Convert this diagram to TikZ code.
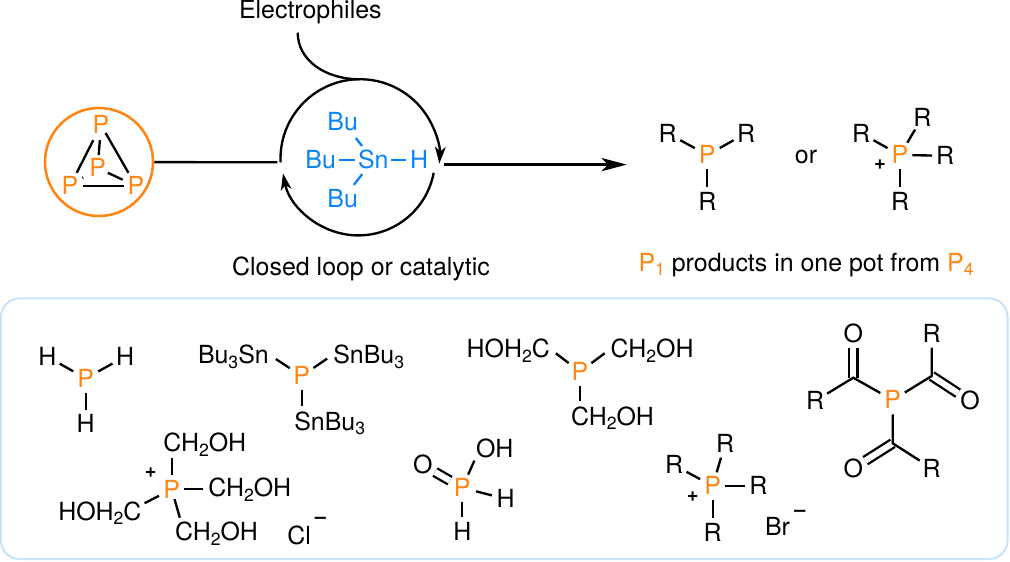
\documentclass[tikz,border=0pt]{standalone}
\usepackage{fontspec}
\setmainfont{TeX Gyre Heros}
\usetikzlibrary{arrows.meta,calc}
\definecolor{porange}{HTML}{FF8412}
\definecolor{snblue}{HTML}{0A84F5}
\definecolor{panelblue}{HTML}{C6E3FB}
\newcommand\chemfont{\fontsize{18.7}{20}\selectfont}
\newcommand\lowidx[1]{\raisebox{-3.6pt}{\fontsize{13.2}{14}\selectfont #1}}
\tikzset{
  x=0.75pt, y=-0.75pt,
  every node/.style={font=\chemfont},
  atom/.style={circle, inner sep=0pt, minimum size=21pt, text height=13.4pt, text depth=0pt},
  tight/.style={circle, inner sep=0pt, text height=13.4pt, text depth=0pt},
  lbl/.style={rectangle, inner sep=0pt, outer sep=0pt, text height=13.4pt, text depth=0pt},
  phos/.style={atom, text=porange},
  tin/.style={tight, text=snblue},
  bond/.style={line width=1.75pt},
  tinbond/.style={line width=1.75pt, draw=snblue},
  dbl/.style={line width=1.75pt, double, double distance=4.6pt},
  gap/.style 2 args={shorten <=#1*0.75pt, shorten >=#2*0.75pt},
  catarrow/.style={line width=1.75pt, -{Stealth[length=12.5pt, width=8pt, inset=3.5pt]}},
  longarrow/.style={line width=1.75pt, -{Stealth[length=19pt, width=10pt, inset=5pt]}},
  charge/.style={inner sep=0pt, font=\bfseries\fontsize{15}{16}\selectfont},
}
\begin{document}
\begin{tikzpicture}
\useasboundingbox (0,0) rectangle (1010,561);

% tetrahedral P4 inside its orange ring
\node[circle, draw=porange, line width=1.9pt, minimum size=81pt, inner sep=0pt] (ring) at (99,162) {};
\node[tight, text=porange] (pt) at (101,125) {P};
\node[tight, text=porange] (pc) at (97.7,168) {P};
\node[tight, text=porange] (pl) at (70,186) {P};
\node[tight, text=porange] (pr) at (136,186) {P};
\draw[bond, gap={4.6}{2.4}] (pt) -- (pl);
\draw[bond, gap={2.8}{0.8}] (pt) -- (pc);
\draw[bond, gap={-3.2}{2.8}] (pt) -- (pr);
\draw[bond, gap={0.5}{-0.5}] (pl) -- (pr);
\draw[bond, gap={-1.2}{2.3}] (pc) -- (pr);
\draw[bond, gap={4.9}{2.4}] (pc) -- (pl);

% tin hydride cycle
\coordinate (cycleIn) at (277.3,162.3);
\coordinate (cycleOut) at (444.3,164.6);
\coordinate (arrowEnd) at (626.7,164.6);
\coordinate (upperC) at (360,158.7);
\coordinate (lowerC) at (358.3,158.7);
\coordinate (elecStart) at (297.7,32.7);
\coordinate (elecJoin) at (360,79.3);
\draw[bond] (ring) -- (cycleIn);
\draw[longarrow] (cycleOut) -- (arrowEnd);
\draw[catarrow] (upperC) ++(177.4:79.5) arc[start angle=177.4, end angle=363.5, radius=79.5];
\draw[catarrow] (lowerC) ++(10.6:76.7) arc[start angle=10.6, end angle=169, radius=76.7];
\draw[bond] (elecStart) .. controls (297.7,60) and (325,79.3) .. (elecJoin);

\node[tin] (sn) at (373.3,160) {Sn};
\node[tin] (buL) at (320.7,160) {Bu};
\node[tin] (buT) at (342.7,121.7) {Bu};
\node[tin] (buB) at (342.7,199) {Bu};
\node[tin] (snH) at (419,160) {H};
\draw[tinbond] (buL) -- (sn);
\draw[tinbond] (sn) -- (snH);
\draw[tinbond, gap={3}{0}] (buT) -- (sn);
\draw[tinbond] (sn) -- (buB);

\node[lbl, anchor=south] (elec) at (310.3,18) {Electrophiles};
\node[lbl, anchor=south] (loop) at (361,275.5) {Closed loop or catalytic};

% products
\node[phos] (a1) at (707.3,155) {P};
\node[atom] (a1l) at (667.7,133.3) {R};
\node[atom] (a1r) at (746,133.3) {R};
\node[atom] (a1b) at (707.3,201.7) {R};
\draw[bond] (a1) -- (a1l);
\draw[bond] (a1) -- (a1r);
\draw[bond] (a1) -- (a1b);
\node[lbl, anchor=south] (orword) at (806,163.3) {or};
\node[phos] (a2) at (900,155) {P};
\node[atom] (a2l) at (861,133.3) {R};
\node[atom] (a2t) at (922.3,117.3) {R};
\node[tight] (a2r) at (945,155.7) {R};
\node[atom] (a2b) at (900,201.7) {R};
\node[charge] (a2p) at (880,165) {+};
\draw[bond] (a2) -- (a2l);
\draw[bond] (a2) -- (a2t);
\draw[bond, gap={-2}{0}] (a2) -- (a2r);
\draw[bond] (a2) -- (a2b);
\node[lbl, anchor=south west] (cap) at (638.5,271) {\textcolor{porange}{P\lowidx{1}} products in one pot from \textcolor{porange}{P\lowidx{4}}};

% panel of P1 compounds
\node[draw=panelblue, line width=1.5pt, rounded corners=14pt, minimum width=755pt, minimum height=195.5pt, inner sep=0pt] (panel) at (504.2,428.7) {};

% phosphine
\node[phos] (b1) at (85.7,378.3) {P};
\node[atom] (b1l) at (47.3,356.7) {H};
\node[atom] (b1r) at (125,356.7) {H};
\node[atom] (b1b) at (85.7,424) {H};
\draw[bond] (b1) -- (b1l);
\draw[bond] (b1) -- (b1r);
\draw[bond] (b1) -- (b1b);

% tris(tributylstannyl)phosphine
\node[phos] (b2) at (301.7,376) {P};
\node[lbl, anchor=south west] (b2l) at (198,363.3) {Bu\lowidx{3}Sn};
\node[lbl, anchor=south west] (b2r) at (333.3,363.3) {SnBu\lowidx{3}};
\node[lbl, anchor=south west] (b2b) at (294.3,430) {SnBu\lowidx{3}};
\draw[bond, gap={0}{8.5}] (b2) -- (b2l.east);
\draw[bond, gap={0}{7.5}] (b2) -- (b2r.west);
\draw[bond, gap={0}{6.5}] (b2) -- (b2 |- b2b.north);

% tris(hydroxymethyl)phosphine
\node[phos] (b3) at (580,371.7) {P};
\node[lbl, anchor=south west] (b3l) at (466.7,357.7) {HOH\lowidx{2}C};
\node[lbl, anchor=south west] (b3r) at (610.7,357.7) {CH\lowidx{2}OH};
\node[lbl, anchor=south west] (b3b) at (571,425) {CH\lowidx{2}OH};
\draw[bond, gap={0}{7.5}] (b3) -- (b3l.east);
\draw[bond, gap={0}{7.5}] (b3) -- (b3r.west);
\draw[bond, gap={0}{6}] (b3) -- (b3 |- b3b.north);

% triacylphosphine
\node[phos] (b4) at (892.7,400) {P};
\coordinate (c1) at (853.3,377.7);
\coordinate (c2) at (931.7,376);
\coordinate (c3) at (892.7,443.3);
\node[atom] (o1) at (853.3,333.3) {O};
\node[atom] (o2) at (970,401) {O};
\node[atom] (o3) at (853.3,468.3) {O};
\node[atom] (r1) at (815,401) {R};
\node[atom] (r2) at (931.7,333.3) {R};
\node[atom] (r3) at (931.7,468.3) {R};
\draw[dbl] (c1) -- (o1);
\draw[dbl] (c2) -- (o2);
\draw[dbl] (c3) -- (o3);
\draw[bond] (b4) -- (c1) -- (r1);
\draw[bond] (b4) -- (c2) -- (r2);
\draw[bond] (b4) -- (c3) -- (r3);

% phosphonium chloride
\node[phos] (b5) at (171.7,489.3) {P};
\node[lbl, anchor=south west] (b5t) at (163.3,451.7) {CH\lowidx{2}OH};
\node[lbl, anchor=south west] (b5r) at (208.3,496.7) {CH\lowidx{2}OH};
\node[lbl, anchor=south west] (b5l) at (58.3,520) {HOH\lowidx{2}C};
\node[lbl, anchor=south west] (b5b) at (175,540.7) {CH\lowidx{2}OH};
\node[charge] (b5p) at (150.7,472.3) {+};
\node[lbl, anchor=south west] (cl) at (287.3,544) {Cl};
\node[charge] (clm) at (320.5,520) {–};
\draw[bond, gap={0}{6.5}] (b5) -- (b5 |- b5t.south);
\draw[bond, gap={-2}{5}] (b5) -- (b5r.west |- b5);
\draw[bond, gap={0}{3.5}] (b5) -- ($(b5l.north east)!0.15!(b5l.south east)$);
\draw[bond, gap={-4}{5.3}] (b5) -- ($(b5b.north west)+(6.3,0)$);

% hypophosphorous acid
\node[phos] (b6) at (462.3,487.7) {P};
\node[atom] (b6o) at (422.7,465) {O};
\node[lbl, anchor=south west] (b6oh) at (476,457) {OH};
\node[atom] (b6r) at (505.7,499) {H};
\node[atom] (b6b) at (462.3,531.7) {H};
\draw[dbl] (b6) -- (b6o);
\draw[bond, gap={0}{4}] (b6) -- (b6oh.south west);
\draw[bond] (b6) -- (b6r);
\draw[bond] (b6) -- (b6b);

% phosphonium bromide
\node[phos] (b7) at (712.7,486) {P};
\node[atom] (b7t) at (725,444) {R};
\node[atom] (b7l) at (674,465) {R};
\node[tight] (b7r) at (758.3,486) {R};
\node[atom] (b7b) at (712.7,532.3) {R};
\node[charge] (b7p) at (692.7,496.7) {+};
\node[lbl, anchor=south west] (br) at (765,535.7) {Br};
\node[charge] (brm) at (800,513.3) {–};
\draw[bond] (b7) -- (b7t);
\draw[bond] (b7) -- (b7l);
\draw[bond, gap={-2}{0}] (b7) -- (b7r);
\draw[bond] (b7) -- (b7b);
\end{tikzpicture}
\end{document}
